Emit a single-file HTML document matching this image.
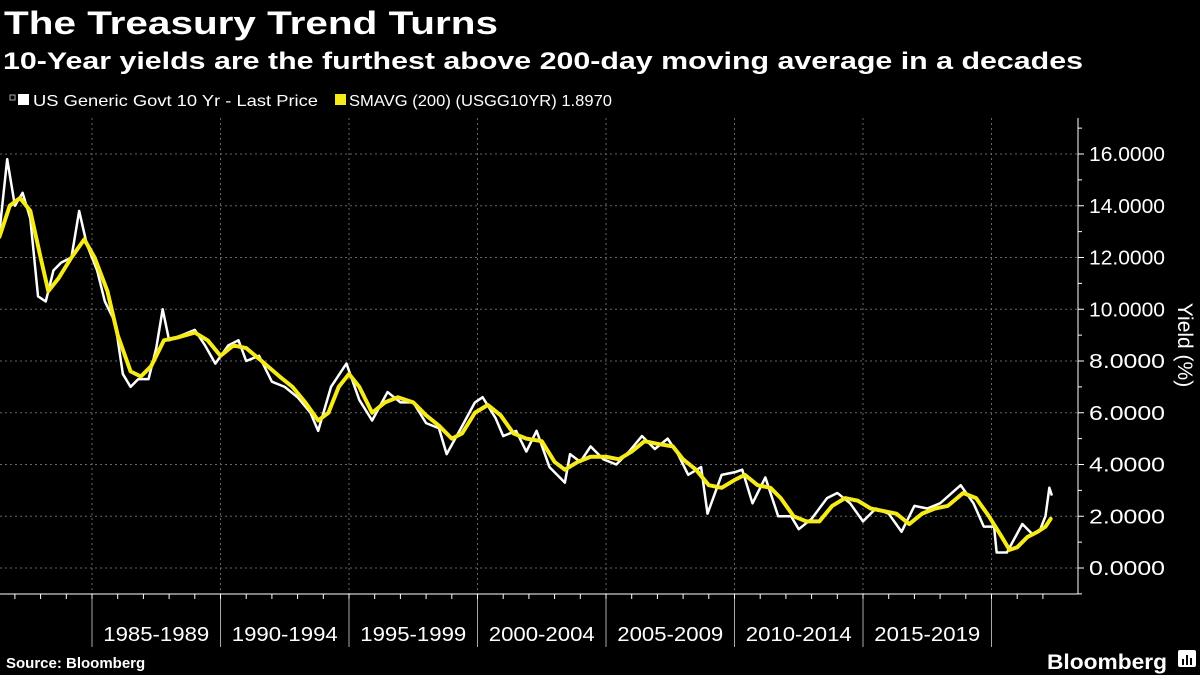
<!DOCTYPE html>
<html><head><meta charset="utf-8"><style>
body{margin:0;background:#000;width:1200px;height:675px;overflow:hidden}
svg{display:block}
text{font-family:"Liberation Sans",sans-serif;fill:#fff}
</style></head><body>
<svg id="c" width="1200" height="675">
<text x="4" y="34" font-size="32" font-weight="bold" textLength="494" lengthAdjust="spacingAndGlyphs">The Treasury Trend Turns</text>
<text x="3" y="69" font-size="24" font-weight="bold" textLength="1080" lengthAdjust="spacingAndGlyphs">10-Year yields are the furthest above 200-day moving average in a decades</text>
<g>
<rect x="10" y="95" width="5" height="5" fill="none" stroke="#aaa"/>
<rect x="18" y="94" width="11" height="11" fill="#fff"/>
<text x="33" y="106" font-size="16" textLength="285" lengthAdjust="spacingAndGlyphs">US Generic Govt 10 Yr - Last Price</text>
<rect x="335" y="94" width="11" height="11" fill="#f5ea1a"/>
<text x="349" y="106" font-size="16" textLength="263" lengthAdjust="spacingAndGlyphs">SMAVG (200) (USGG10YR) 1.8970</text>
</g>
<g id="grid"></g><g id="axes"></g><g id="series"></g>
<text transform="translate(1178,345) rotate(90)" font-size="21" text-anchor="middle">Yield (%)</text>
<text x="6" y="668" font-size="15" font-weight="bold">Source: Bloomberg</text>
<text x="1047" y="669" font-size="21" font-weight="bold" textLength="120" lengthAdjust="spacingAndGlyphs">Bloomberg</text>
<g><rect x="1178" y="650" width="18" height="17" rx="2" fill="#fff"/><rect x="1182" y="659" width="2" height="6" fill="#000"/><rect x="1186" y="655" width="2" height="10" fill="#000"/><rect x="1190" y="658" width="2" height="7" fill="#000"/></g>
</svg>
<script>
const priceYears=[1981.4,1981.7,1982.0,1982.3,1982.6,1982.9,1983.2,1983.5,1983.8,1984.2,1984.5,1984.8,1985.2,1985.5,1985.9,1986.2,1986.5,1986.8,1987.2,1987.5,1987.75,1988.0,1988.5,1989.0,1989.4,1989.8,1990.3,1990.7,1991.0,1991.5,1992.0,1992.5,1993.0,1993.5,1993.8,1994.3,1994.9,1995.4,1995.9,1996.5,1997.0,1997.5,1998.0,1998.5,1998.8,1999.3,1999.9,2000.2,2000.7,2001.0,2001.5,2001.9,2002.3,2002.8,2003.4,2003.6,2004.0,2004.4,2004.9,2005.4,2005.9,2006.4,2006.9,2007.4,2007.8,2008.2,2008.7,2008.95,2009.5,2010.0,2010.3,2010.7,2011.2,2011.7,2012.2,2012.5,2013.0,2013.6,2014.0,2014.5,2015.0,2015.5,2016.0,2016.5,2017.0,2017.5,2018.0,2018.8,2019.3,2019.7,2020.1,2020.2,2020.6,2021.2,2021.6,2021.9,2022.1,2022.25,2022.35];
const priceValues=[13.0,15.8,14.0,14.5,13.5,10.5,10.3,11.5,11.8,12.0,13.8,12.5,11.5,10.3,9.5,7.5,7.0,7.3,7.3,8.5,10.0,8.8,9.0,9.2,8.6,7.9,8.6,8.8,8.0,8.2,7.2,7.0,6.6,6.0,5.3,7.0,7.9,6.5,5.7,6.8,6.4,6.4,5.6,5.4,4.4,5.3,6.4,6.6,5.8,5.1,5.3,4.5,5.3,3.9,3.3,4.4,4.1,4.7,4.2,4.0,4.5,5.1,4.6,5.0,4.4,3.6,3.9,2.1,3.6,3.7,3.8,2.5,3.5,2.0,2.0,1.5,1.9,2.7,2.9,2.5,1.8,2.3,2.1,1.4,2.4,2.3,2.5,3.2,2.5,1.6,1.6,0.6,0.6,1.7,1.3,1.5,2.0,3.1,2.8];
const smaYears=[1981.4,1981.8,1982.2,1982.6,1983.0,1983.3,1983.7,1984.2,1984.7,1985.1,1985.6,1986.0,1986.5,1986.9,1987.3,1987.8,1988.3,1989.0,1989.5,1990.0,1990.5,1991.0,1991.6,1992.3,1992.8,1993.3,1993.8,1994.2,1994.6,1995.0,1995.4,1995.9,1996.4,1996.9,1997.5,1998.0,1998.5,1999.0,1999.4,1999.9,2000.4,2000.9,2001.4,2001.9,2002.5,2003.0,2003.4,2003.9,2004.4,2005.0,2005.5,2006.0,2006.5,2007.0,2007.6,2008.0,2008.5,2009.0,2009.5,2010.0,2010.4,2010.9,2011.4,2011.8,2012.3,2012.8,2013.3,2013.8,2014.3,2014.8,2015.3,2015.8,2016.3,2016.8,2017.3,2017.8,2018.3,2018.9,2019.4,2019.9,2020.4,2020.7,2021.0,2021.4,2021.8,2022.1,2022.3];
const smaValues=[12.8,14.0,14.3,13.8,12.0,10.7,11.2,12.0,12.7,12.0,10.7,9.0,7.6,7.4,7.8,8.8,8.9,9.1,8.8,8.2,8.6,8.5,8.0,7.4,7.0,6.4,5.7,6.0,7.0,7.5,7.0,6.0,6.4,6.6,6.4,5.9,5.5,5.0,5.2,6.0,6.3,5.9,5.2,5.0,4.9,4.1,3.8,4.1,4.3,4.3,4.2,4.5,4.9,4.8,4.7,4.2,3.8,3.2,3.1,3.4,3.6,3.2,3.1,2.7,2.0,1.8,1.8,2.4,2.7,2.6,2.3,2.2,2.1,1.7,2.1,2.3,2.4,2.9,2.7,2.0,1.2,0.7,0.8,1.2,1.4,1.6,1.9];
const yTicks=[0,2,4,6,8,10,12,14,16];
const xPeriods=["1985-1989","1990-1994","1995-1999","2000-2004","2005-2009","2010-2014","2015-2019"];
const periodStarts=[1985,1990,1995,2000,2005,2010,2015,2020];
const NS='http://www.w3.org/2000/svg';
const X=y=>92+(y-1985)*25.7, Y=v=>568-25.875*v;
function mk(tag,attrs,parent){const e=document.createElementNS(NS,tag);for(const k in attrs)e.setAttribute(k,attrs[k]);parent.appendChild(e);return e;}
const grid=document.getElementById('grid'),axes=document.getElementById('axes'),ser=document.getElementById('series');
yTicks.forEach(v=>{
 const l=mk('line',{x1:0,x2:1078,y1:Y(v),y2:Y(v),stroke:'#666','stroke-dasharray':'2,3','stroke-width':1},grid);
 
 
 const t=mk('line',{x1:1078,x2:1084,y1:Y(v),y2:Y(v),stroke:'#fff'},axes);
 
 
 const tx=mk('text',{x:1089,y:Y(v)+7,'font-size':20,textLength:76,lengthAdjust:'spacingAndGlyphs'},axes);tx.textContent=v.toFixed(4);
 
 
});
for(let v=-1;v<=17;v+=1){if(v%2===0)continue;const m=mk('line',{x1:1078,x2:1082,y1:Y(v),y2:Y(v),stroke:'#fff'},axes);
 
 }
periodStarts.forEach(y=>{
 const g=mk('line',{x1:X(y),x2:X(y),y1:118,y2:594,stroke:'#666','stroke-dasharray':'2,3'},grid);
 
 
 const s=mk('line',{x1:X(y),x2:X(y),y1:594,y2:647,stroke:'#aaa'},axes);
 
 
});
for(let y=1982;y<=2022;y++){const m=mk('line',{x1:X(y),x2:X(y),y1:594,y2:599,stroke:'#fff'},axes);
 
 }
xPeriods.forEach((p,i)=>{const t=mk('text',{x:(X(periodStarts[i])+X(periodStarts[i+1]))/2,y:641,'font-size':20,'text-anchor':'middle',textLength:106,lengthAdjust:'spacingAndGlyphs'},axes);t.textContent=p;
 
 });
const ax1=mk('line',{x1:0,x2:1078,y1:594,y2:594,stroke:'#fff'},axes);


const ax2=mk('line',{x1:1078,x2:1078,y1:118,y2:594,stroke:'#fff'},axes);


const pp=mk('polyline',{points:priceYears.map((y,i)=>X(y)+','+Y(priceValues[i])).join(' '),fill:'none',stroke:'#fff','stroke-width':2.5,'stroke-linejoin':'round'},ser);


const sp=mk('polyline',{points:smaYears.map((y,i)=>X(y)+','+Y(smaValues[i])).join(' '),fill:'none',stroke:'#f5ea1a','stroke-width':4,'stroke-linejoin':'round','stroke-linecap':'round'},ser);


</script>
</body></html>
